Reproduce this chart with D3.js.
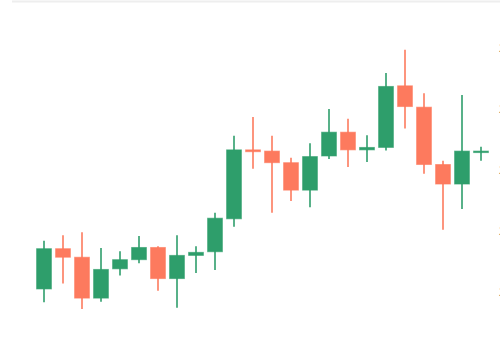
<!DOCTYPE html>
<html>
<head>
<meta charset="utf-8">
<script src="https://cdn.jsdelivr.net/npm/d3@7"></script>
<style>
  html, body { margin: 0; padding: 0; background: #fff; }
  svg { display: block; }
  .axis text { font-family: "Noto Sans", sans-serif; font-size: 11px; fill: #555; }
</style>
</head>
<body>
<svg id="chart" width="500" height="352"></svg>
<script>
// candle values
var days  = d3.range(1, 25).map(function(d) { return "D" + d; });
var opens  = [210.5, 217.1, 215.7, 209.0, 213.8, 215.3, 217.3, 212.2, 216.0, 216.6, 222.0, 233.3,
              233.1, 231.2, 226.7, 232.3, 236.2, 233.3, 233.7, 243.8, 240.3, 230.9, 227.7, 232.9];
var closes = [217.1, 215.7, 209.0, 213.7, 215.3, 217.3, 212.2, 216.0, 216.5, 222.1, 233.3, 233.0,
              231.2, 226.7, 232.2, 236.2, 233.3, 233.7, 243.7, 240.4, 230.9, 227.7, 233.1, 233.1];
var highs  = [218.4, 219.3, 219.8, 217.2, 216.7, 219.2, 217.5, 219.3, 217.5, 223.0, 235.6, 238.7,
              235.6, 232.0, 234.4, 240.0, 238.4, 235.7, 245.9, 249.7, 242.6, 231.5, 242.3, 233.8];
var lows   = [208.3, 211.4, 207.2, 208.4, 212.7, 214.7, 210.2, 207.4, 213.1, 213.6, 220.7, 230.2,
              223.0, 224.9, 223.9, 231.8, 230.5, 231.3, 233.2, 236.8, 229.4, 220.2, 223.6, 231.5];
var priceTicks = [210, 220, 230, 240, 250];

var up = "#2e9e6b", down = "#fd7a5e";

var svg = d3.select("#chart");

// faint frame line along the top
svg.append("line")
  .attr("x1", 12).attr("x2", 500).attr("y1", 1.5).attr("y2", 1.5)
  .attr("stroke", "#eeeeee").attr("stroke-width", 2);

var x = d3.scalePoint().domain(days).range([44, 481]);
var y = d3.scaleLinear().domain([210, 250]).range([292, 48]);
var bodyW = x.step() * 0.78;

var candles = days.map(function(d, i) {
  return {day: d, o: opens[i], c: closes[i], h: highs[i], l: lows[i]};
});

var g = svg.append("g").selectAll("g").data(candles).enter().append("g")
  .attr("transform", function(d) { return "translate(" + x(d.day) + ",0)"; });

g.append("line")
  .attr("y1", function(d) { return y(d.h); })
  .attr("y2", function(d) { return y(d.l); })
  .attr("stroke", function(d) { return d.c >= d.o ? up : down; })
  .attr("stroke-opacity", 0.8)
  .attr("stroke-width", 2);

g.append("rect")
  .attr("x", -bodyW / 2)
  .attr("width", bodyW)
  .attr("y", function(d) { return y(Math.max(d.o, d.c)); })
  .attr("height", function(d) { return Math.max(1.5, Math.abs(y(d.o) - y(d.c))); })
  .attr("fill", function(d) { return d.c >= d.o ? up : down; })
  .attr("stroke", function(d) { return d.c >= d.o ? up : down; })
  .attr("stroke-opacity", 0.6)
  .attr("stroke-width", 1);

// price axis on the right, mostly outside the window
var axis = svg.append("g").attr("class", "axis")
  .attr("transform", "translate(493,0)")
  .call(d3.axisRight(y).tickValues(priceTicks).tickSize(0).tickPadding(6));
axis.select(".domain").remove();
</script>
</body>
</html>
